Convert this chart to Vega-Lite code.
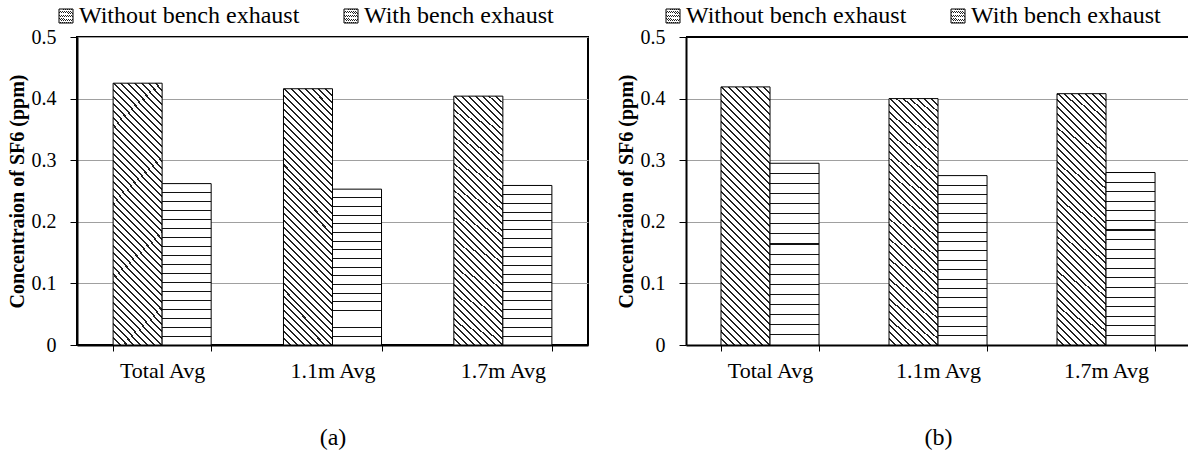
{
  "$schema": "https://vega.github.io/schema/vega-lite/v6.json",
  "padding": {"left": 6, "top": 3, "right": 0, "bottom": 0},
  "data": {"values": [
    {"panel": "a", "cat": "Total Avg", "series": "Without bench exhaust", "value": 0.425},
    {"panel": "a", "cat": "Total Avg", "series": "With bench exhaust", "value": 0.262},
    {"panel": "a", "cat": "1.1m Avg", "series": "Without bench exhaust", "value": 0.416},
    {"panel": "a", "cat": "1.1m Avg", "series": "With bench exhaust", "value": 0.253},
    {"panel": "a", "cat": "1.7m Avg", "series": "Without bench exhaust", "value": 0.404},
    {"panel": "a", "cat": "1.7m Avg", "series": "With bench exhaust", "value": 0.259},
    {"panel": "b", "cat": "Total Avg", "series": "Without bench exhaust", "value": 0.419},
    {"panel": "b", "cat": "Total Avg", "series": "With bench exhaust", "value": 0.295},
    {"panel": "b", "cat": "1.1m Avg", "series": "Without bench exhaust", "value": 0.400},
    {"panel": "b", "cat": "1.1m Avg", "series": "With bench exhaust", "value": 0.275},
    {"panel": "b", "cat": "1.7m Avg", "series": "Without bench exhaust", "value": 0.408},
    {"panel": "b", "cat": "1.7m Avg", "series": "With bench exhaust", "value": 0.280}
  ]},
  "spacing": 27,
  "resolve": {"scale": {"stroke": "independent"}, "legend": {"stroke": "independent"}},
  "hconcat": [
    {
      "width": 511,
      "height": 308,
      "view": {"stroke": "black", "strokeWidth": 2},
      "transform": [{"filter": "datum.panel === 'a'"}],
      "encoding": {
        "x": {"field": "cat", "type": "nominal", "sort": ["Total Avg", "1.1m Avg", "1.7m Avg"],
              "scale": {"paddingInner": 0.4245, "paddingOuter": 0.212},
              "axis": {"title": "(a)"}},
        "xOffset": {"field": "series", "type": "nominal", "sort": ["Without bench exhaust", "With bench exhaust"],
                    "scale": {"domain": ["Without bench exhaust", "With bench exhaust"], "paddingInner": 0, "paddingOuter": 0}},
        "y": {"field": "value", "type": "quantitative", "scale": {"domain": [0, 0.5], "nice": false},
              "axis": {"title": "Concentraion of SF6 (ppm)", "values": [0, 0.1, 0.2, 0.3, 0.4, 0.5], "format": ".1~f"}},
        "stroke": {"field": "series", "type": "nominal",
                   "scale": {"domain": ["Without bench exhaust", "With bench exhaust"], "range": ["black", "black"]},
                   "legend": {"legendX": -23, "encode": {"symbols": {"fill": {
                     "condition": {"test": "datum.index === 0", "value": {"gradient": "linear", "x1": 0, "y1": 1, "x2": 1, "y2": 0, "stops": [
                       {"offset": 0, "color": "#fff"},
                       {"offset": 0.17, "color": "#fff"}, {"offset": 0.17, "color": "#222"}, {"offset": 0.24, "color": "#222"}, {"offset": 0.24, "color": "#fff"},
                       {"offset": 0.37, "color": "#fff"}, {"offset": 0.37, "color": "#222"}, {"offset": 0.44, "color": "#222"}, {"offset": 0.44, "color": "#fff"},
                       {"offset": 0.57, "color": "#fff"}, {"offset": 0.57, "color": "#222"}, {"offset": 0.64, "color": "#222"}, {"offset": 0.64, "color": "#fff"},
                       {"offset": 0.77, "color": "#fff"}, {"offset": 0.77, "color": "#222"}, {"offset": 0.84, "color": "#222"}, {"offset": 0.84, "color": "#fff"},
                       {"offset": 1, "color": "#fff"}]}},
                     "value": {"gradient": "linear", "x1": 0, "y1": 0, "x2": 0, "y2": 1, "stops": [
                       {"offset": 0, "color": "#fff"},
                       {"offset": 0.33, "color": "#fff"}, {"offset": 0.33, "color": "#111"}, {"offset": 0.4, "color": "#111"}, {"offset": 0.4, "color": "#fff"},
                       {"offset": 0.62, "color": "#fff"}, {"offset": 0.62, "color": "#111"}, {"offset": 0.69, "color": "#111"}, {"offset": 0.69, "color": "#fff"},
                       {"offset": 1, "color": "#fff"}]}
                   }}}}}
      },
      "layer": [
        {"transform": [{"filter": "datum.series === 'Without bench exhaust'"}],
         "mark": {"type": "bar", "strokeWidth": 1, "fill": {"gradient": "linear", "x1": 0, "y1": 1, "x2": 0.2209, "y2": -0.1498, "stops": [
          {"offset": 0, "color": "#fff"},
          {"offset": 0.0194, "color": "#fff"}, {"offset": 0.0194, "color": "#222"}, {"offset": 0.026, "color": "#222"}, {"offset": 0.026, "color": "#fff"},
          {"offset": 0.0422, "color": "#fff"}, {"offset": 0.0422, "color": "#222"}, {"offset": 0.0488, "color": "#222"}, {"offset": 0.0488, "color": "#fff"},
          {"offset": 0.0649, "color": "#fff"}, {"offset": 0.0649, "color": "#222"}, {"offset": 0.0715, "color": "#222"}, {"offset": 0.0715, "color": "#fff"},
          {"offset": 0.0876, "color": "#fff"}, {"offset": 0.0876, "color": "#222"}, {"offset": 0.0942, "color": "#222"}, {"offset": 0.0942, "color": "#fff"},
          {"offset": 0.1103, "color": "#fff"}, {"offset": 0.1103, "color": "#222"}, {"offset": 0.1169, "color": "#222"}, {"offset": 0.1169, "color": "#fff"},
          {"offset": 0.1331, "color": "#fff"}, {"offset": 0.1331, "color": "#222"}, {"offset": 0.1397, "color": "#222"}, {"offset": 0.1397, "color": "#fff"},
          {"offset": 0.1558, "color": "#fff"}, {"offset": 0.1558, "color": "#222"}, {"offset": 0.1624, "color": "#222"}, {"offset": 0.1624, "color": "#fff"},
          {"offset": 0.1785, "color": "#fff"}, {"offset": 0.1785, "color": "#222"}, {"offset": 0.1851, "color": "#222"}, {"offset": 0.1851, "color": "#fff"},
          {"offset": 0.2013, "color": "#fff"}, {"offset": 0.2013, "color": "#222"}, {"offset": 0.2079, "color": "#222"}, {"offset": 0.2079, "color": "#fff"},
          {"offset": 0.224, "color": "#fff"}, {"offset": 0.224, "color": "#222"}, {"offset": 0.2306, "color": "#222"}, {"offset": 0.2306, "color": "#fff"},
          {"offset": 0.2467, "color": "#fff"}, {"offset": 0.2467, "color": "#222"}, {"offset": 0.2533, "color": "#222"}, {"offset": 0.2533, "color": "#fff"},
          {"offset": 0.2694, "color": "#fff"}, {"offset": 0.2694, "color": "#222"}, {"offset": 0.276, "color": "#222"}, {"offset": 0.276, "color": "#fff"},
          {"offset": 0.2922, "color": "#fff"}, {"offset": 0.2922, "color": "#222"}, {"offset": 0.2988, "color": "#222"}, {"offset": 0.2988, "color": "#fff"},
          {"offset": 0.3149, "color": "#fff"}, {"offset": 0.3149, "color": "#222"}, {"offset": 0.3215, "color": "#222"}, {"offset": 0.3215, "color": "#fff"},
          {"offset": 0.3376, "color": "#fff"}, {"offset": 0.3376, "color": "#222"}, {"offset": 0.3442, "color": "#222"}, {"offset": 0.3442, "color": "#fff"},
          {"offset": 0.3603, "color": "#fff"}, {"offset": 0.3603, "color": "#222"}, {"offset": 0.3669, "color": "#222"}, {"offset": 0.3669, "color": "#fff"},
          {"offset": 0.3831, "color": "#fff"}, {"offset": 0.3831, "color": "#222"}, {"offset": 0.3897, "color": "#222"}, {"offset": 0.3897, "color": "#fff"},
          {"offset": 0.4058, "color": "#fff"}, {"offset": 0.4058, "color": "#222"}, {"offset": 0.4124, "color": "#222"}, {"offset": 0.4124, "color": "#fff"},
          {"offset": 0.4285, "color": "#fff"}, {"offset": 0.4285, "color": "#222"}, {"offset": 0.4351, "color": "#222"}, {"offset": 0.4351, "color": "#fff"},
          {"offset": 0.4513, "color": "#fff"}, {"offset": 0.4513, "color": "#222"}, {"offset": 0.4579, "color": "#222"}, {"offset": 0.4579, "color": "#fff"},
          {"offset": 0.474, "color": "#fff"}, {"offset": 0.474, "color": "#222"}, {"offset": 0.4806, "color": "#222"}, {"offset": 0.4806, "color": "#fff"},
          {"offset": 0.4967, "color": "#fff"}, {"offset": 0.4967, "color": "#222"}, {"offset": 0.5033, "color": "#222"}, {"offset": 0.5033, "color": "#fff"},
          {"offset": 0.5194, "color": "#fff"}, {"offset": 0.5194, "color": "#222"}, {"offset": 0.526, "color": "#222"}, {"offset": 0.526, "color": "#fff"},
          {"offset": 0.5422, "color": "#fff"}, {"offset": 0.5422, "color": "#222"}, {"offset": 0.5488, "color": "#222"}, {"offset": 0.5488, "color": "#fff"},
          {"offset": 0.5649, "color": "#fff"}, {"offset": 0.5649, "color": "#222"}, {"offset": 0.5715, "color": "#222"}, {"offset": 0.5715, "color": "#fff"},
          {"offset": 0.5876, "color": "#fff"}, {"offset": 0.5876, "color": "#222"}, {"offset": 0.5942, "color": "#222"}, {"offset": 0.5942, "color": "#fff"},
          {"offset": 0.6103, "color": "#fff"}, {"offset": 0.6103, "color": "#222"}, {"offset": 0.6169, "color": "#222"}, {"offset": 0.6169, "color": "#fff"},
          {"offset": 0.6331, "color": "#fff"}, {"offset": 0.6331, "color": "#222"}, {"offset": 0.6397, "color": "#222"}, {"offset": 0.6397, "color": "#fff"},
          {"offset": 0.6558, "color": "#fff"}, {"offset": 0.6558, "color": "#222"}, {"offset": 0.6624, "color": "#222"}, {"offset": 0.6624, "color": "#fff"},
          {"offset": 0.6785, "color": "#fff"}, {"offset": 0.6785, "color": "#222"}, {"offset": 0.6851, "color": "#222"}, {"offset": 0.6851, "color": "#fff"},
          {"offset": 0.7013, "color": "#fff"}, {"offset": 0.7013, "color": "#222"}, {"offset": 0.7079, "color": "#222"}, {"offset": 0.7079, "color": "#fff"},
          {"offset": 0.724, "color": "#fff"}, {"offset": 0.724, "color": "#222"}, {"offset": 0.7306, "color": "#222"}, {"offset": 0.7306, "color": "#fff"},
          {"offset": 0.7467, "color": "#fff"}, {"offset": 0.7467, "color": "#222"}, {"offset": 0.7533, "color": "#222"}, {"offset": 0.7533, "color": "#fff"},
          {"offset": 0.7694, "color": "#fff"}, {"offset": 0.7694, "color": "#222"}, {"offset": 0.776, "color": "#222"}, {"offset": 0.776, "color": "#fff"},
          {"offset": 0.7922, "color": "#fff"}, {"offset": 0.7922, "color": "#222"}, {"offset": 0.7988, "color": "#222"}, {"offset": 0.7988, "color": "#fff"},
          {"offset": 0.8149, "color": "#fff"}, {"offset": 0.8149, "color": "#222"}, {"offset": 0.8215, "color": "#222"}, {"offset": 0.8215, "color": "#fff"},
          {"offset": 0.8376, "color": "#fff"}, {"offset": 0.8376, "color": "#222"}, {"offset": 0.8442, "color": "#222"}, {"offset": 0.8442, "color": "#fff"},
          {"offset": 0.8603, "color": "#fff"}, {"offset": 0.8603, "color": "#222"}, {"offset": 0.8669, "color": "#222"}, {"offset": 0.8669, "color": "#fff"},
          {"offset": 0.8831, "color": "#fff"}, {"offset": 0.8831, "color": "#222"}, {"offset": 0.8897, "color": "#222"}, {"offset": 0.8897, "color": "#fff"},
          {"offset": 0.9058, "color": "#fff"}, {"offset": 0.9058, "color": "#222"}, {"offset": 0.9124, "color": "#222"}, {"offset": 0.9124, "color": "#fff"},
          {"offset": 0.9285, "color": "#fff"}, {"offset": 0.9285, "color": "#222"}, {"offset": 0.9351, "color": "#222"}, {"offset": 0.9351, "color": "#fff"},
          {"offset": 0.9513, "color": "#fff"}, {"offset": 0.9513, "color": "#222"}, {"offset": 0.9579, "color": "#222"}, {"offset": 0.9579, "color": "#fff"},
          {"offset": 0.974, "color": "#fff"}, {"offset": 0.974, "color": "#222"}, {"offset": 0.9806, "color": "#222"}, {"offset": 0.9806, "color": "#fff"},
          {"offset": 1, "color": "#fff"}]}}},
        {"transform": [{"filter": "datum.series === 'With bench exhaust'"}],
         "mark": {"type": "bar", "strokeWidth": 1, "fill": {"gradient": "linear", "x1": 0, "y1": 0, "x2": 0, "y2": 1, "stops": [
          {"offset": 0, "color": "#fff"},
          {"offset": 0.0526, "color": "#fff"}, {"offset": 0.0526, "color": "#111"}, {"offset": 0.0586, "color": "#111"}, {"offset": 0.0586, "color": "#fff"},
          {"offset": 0.1081, "color": "#fff"}, {"offset": 0.1081, "color": "#111"}, {"offset": 0.1141, "color": "#111"}, {"offset": 0.1141, "color": "#fff"},
          {"offset": 0.1637, "color": "#fff"}, {"offset": 0.1637, "color": "#111"}, {"offset": 0.1697, "color": "#111"}, {"offset": 0.1697, "color": "#fff"},
          {"offset": 0.2192, "color": "#fff"}, {"offset": 0.2192, "color": "#111"}, {"offset": 0.2252, "color": "#111"}, {"offset": 0.2252, "color": "#fff"},
          {"offset": 0.2748, "color": "#fff"}, {"offset": 0.2748, "color": "#111"}, {"offset": 0.2808, "color": "#111"}, {"offset": 0.2808, "color": "#fff"},
          {"offset": 0.3303, "color": "#fff"}, {"offset": 0.3303, "color": "#111"}, {"offset": 0.3363, "color": "#111"}, {"offset": 0.3363, "color": "#fff"},
          {"offset": 0.3859, "color": "#fff"}, {"offset": 0.3859, "color": "#111"}, {"offset": 0.3919, "color": "#111"}, {"offset": 0.3919, "color": "#fff"},
          {"offset": 0.4414, "color": "#fff"}, {"offset": 0.4414, "color": "#111"}, {"offset": 0.4474, "color": "#111"}, {"offset": 0.4474, "color": "#fff"},
          {"offset": 0.497, "color": "#fff"}, {"offset": 0.497, "color": "#111"}, {"offset": 0.503, "color": "#111"}, {"offset": 0.503, "color": "#fff"},
          {"offset": 0.5526, "color": "#fff"}, {"offset": 0.5526, "color": "#111"}, {"offset": 0.5586, "color": "#111"}, {"offset": 0.5586, "color": "#fff"},
          {"offset": 0.6081, "color": "#fff"}, {"offset": 0.6081, "color": "#111"}, {"offset": 0.6141, "color": "#111"}, {"offset": 0.6141, "color": "#fff"},
          {"offset": 0.6637, "color": "#fff"}, {"offset": 0.6637, "color": "#111"}, {"offset": 0.6697, "color": "#111"}, {"offset": 0.6697, "color": "#fff"},
          {"offset": 0.7192, "color": "#fff"}, {"offset": 0.7192, "color": "#111"}, {"offset": 0.7252, "color": "#111"}, {"offset": 0.7252, "color": "#fff"},
          {"offset": 0.7748, "color": "#fff"}, {"offset": 0.7748, "color": "#111"}, {"offset": 0.7808, "color": "#111"}, {"offset": 0.7808, "color": "#fff"},
          {"offset": 0.8303, "color": "#fff"}, {"offset": 0.8303, "color": "#111"}, {"offset": 0.8363, "color": "#111"}, {"offset": 0.8363, "color": "#fff"},
          {"offset": 0.8859, "color": "#fff"}, {"offset": 0.8859, "color": "#111"}, {"offset": 0.8919, "color": "#111"}, {"offset": 0.8919, "color": "#fff"},
          {"offset": 0.9414, "color": "#fff"}, {"offset": 0.9414, "color": "#111"}, {"offset": 0.9474, "color": "#111"}, {"offset": 0.9474, "color": "#fff"},
          {"offset": 1, "color": "#fff"}]}}}
      ]
    },
    {
      "width": 504,
      "height": 308,
      "view": {"stroke": null},
      "transform": [{"filter": "datum.panel === 'b'"}],
      "layer": [
        {
          "encoding": {
            "x": {"field": "cat", "type": "nominal", "sort": ["Total Avg", "1.1m Avg", "1.7m Avg"],
                  "scale": {"paddingInner": 0.4167, "paddingOuter": 0.2083},
                  "axis": {"title": "(b)"}},
            "xOffset": {"field": "series", "type": "nominal", "sort": ["Without bench exhaust", "With bench exhaust"],
                        "scale": {"domain": ["Without bench exhaust", "With bench exhaust"], "paddingInner": 0, "paddingOuter": 0}},
            "y": {"field": "value", "type": "quantitative", "scale": {"domain": [0, 0.5], "nice": false},
                  "axis": {"title": "Concentraion of SF6 (ppm)", "values": [0, 0.1, 0.2, 0.3, 0.4, 0.5], "format": ".1~f"}},
            "stroke": {"field": "series", "type": "nominal",
                       "scale": {"domain": ["Without bench exhaust", "With bench exhaust"], "range": ["black", "black"]},
                       "legend": {"legendX": -25, "encode": {"symbols": {"fill": {
                         "condition": {"test": "datum.index === 0", "value": {"gradient": "linear", "x1": 0, "y1": 1, "x2": 1, "y2": 0, "stops": [
                           {"offset": 0, "color": "#fff"},
                           {"offset": 0.17, "color": "#fff"}, {"offset": 0.17, "color": "#222"}, {"offset": 0.24, "color": "#222"}, {"offset": 0.24, "color": "#fff"},
                           {"offset": 0.37, "color": "#fff"}, {"offset": 0.37, "color": "#222"}, {"offset": 0.44, "color": "#222"}, {"offset": 0.44, "color": "#fff"},
                           {"offset": 0.57, "color": "#fff"}, {"offset": 0.57, "color": "#222"}, {"offset": 0.64, "color": "#222"}, {"offset": 0.64, "color": "#fff"},
                           {"offset": 0.77, "color": "#fff"}, {"offset": 0.77, "color": "#222"}, {"offset": 0.84, "color": "#222"}, {"offset": 0.84, "color": "#fff"},
                           {"offset": 1, "color": "#fff"}]}},
                         "value": {"gradient": "linear", "x1": 0, "y1": 0, "x2": 0, "y2": 1, "stops": [
                           {"offset": 0, "color": "#fff"},
                           {"offset": 0.33, "color": "#fff"}, {"offset": 0.33, "color": "#111"}, {"offset": 0.4, "color": "#111"}, {"offset": 0.4, "color": "#fff"},
                           {"offset": 0.62, "color": "#fff"}, {"offset": 0.62, "color": "#111"}, {"offset": 0.69, "color": "#111"}, {"offset": 0.69, "color": "#fff"},
                           {"offset": 1, "color": "#fff"}]}
                       }}}}}
          },
          "layer": [
            {"transform": [{"filter": "datum.series === 'Without bench exhaust'"}],
             "mark": {"type": "bar", "strokeWidth": 1, "fill": {"gradient": "linear", "x1": 0, "y1": 1, "x2": 0.2209, "y2": -0.1498, "stops": [
              {"offset": 0, "color": "#fff"},
              {"offset": 0.0194, "color": "#fff"}, {"offset": 0.0194, "color": "#222"}, {"offset": 0.026, "color": "#222"}, {"offset": 0.026, "color": "#fff"},
              {"offset": 0.0422, "color": "#fff"}, {"offset": 0.0422, "color": "#222"}, {"offset": 0.0488, "color": "#222"}, {"offset": 0.0488, "color": "#fff"},
              {"offset": 0.0649, "color": "#fff"}, {"offset": 0.0649, "color": "#222"}, {"offset": 0.0715, "color": "#222"}, {"offset": 0.0715, "color": "#fff"},
              {"offset": 0.0876, "color": "#fff"}, {"offset": 0.0876, "color": "#222"}, {"offset": 0.0942, "color": "#222"}, {"offset": 0.0942, "color": "#fff"},
              {"offset": 0.1103, "color": "#fff"}, {"offset": 0.1103, "color": "#222"}, {"offset": 0.1169, "color": "#222"}, {"offset": 0.1169, "color": "#fff"},
              {"offset": 0.1331, "color": "#fff"}, {"offset": 0.1331, "color": "#222"}, {"offset": 0.1397, "color": "#222"}, {"offset": 0.1397, "color": "#fff"},
              {"offset": 0.1558, "color": "#fff"}, {"offset": 0.1558, "color": "#222"}, {"offset": 0.1624, "color": "#222"}, {"offset": 0.1624, "color": "#fff"},
              {"offset": 0.1785, "color": "#fff"}, {"offset": 0.1785, "color": "#222"}, {"offset": 0.1851, "color": "#222"}, {"offset": 0.1851, "color": "#fff"},
              {"offset": 0.2013, "color": "#fff"}, {"offset": 0.2013, "color": "#222"}, {"offset": 0.2079, "color": "#222"}, {"offset": 0.2079, "color": "#fff"},
              {"offset": 0.224, "color": "#fff"}, {"offset": 0.224, "color": "#222"}, {"offset": 0.2306, "color": "#222"}, {"offset": 0.2306, "color": "#fff"},
              {"offset": 0.2467, "color": "#fff"}, {"offset": 0.2467, "color": "#222"}, {"offset": 0.2533, "color": "#222"}, {"offset": 0.2533, "color": "#fff"},
              {"offset": 0.2694, "color": "#fff"}, {"offset": 0.2694, "color": "#222"}, {"offset": 0.276, "color": "#222"}, {"offset": 0.276, "color": "#fff"},
              {"offset": 0.2922, "color": "#fff"}, {"offset": 0.2922, "color": "#222"}, {"offset": 0.2988, "color": "#222"}, {"offset": 0.2988, "color": "#fff"},
              {"offset": 0.3149, "color": "#fff"}, {"offset": 0.3149, "color": "#222"}, {"offset": 0.3215, "color": "#222"}, {"offset": 0.3215, "color": "#fff"},
              {"offset": 0.3376, "color": "#fff"}, {"offset": 0.3376, "color": "#222"}, {"offset": 0.3442, "color": "#222"}, {"offset": 0.3442, "color": "#fff"},
              {"offset": 0.3603, "color": "#fff"}, {"offset": 0.3603, "color": "#222"}, {"offset": 0.3669, "color": "#222"}, {"offset": 0.3669, "color": "#fff"},
              {"offset": 0.3831, "color": "#fff"}, {"offset": 0.3831, "color": "#222"}, {"offset": 0.3897, "color": "#222"}, {"offset": 0.3897, "color": "#fff"},
              {"offset": 0.4058, "color": "#fff"}, {"offset": 0.4058, "color": "#222"}, {"offset": 0.4124, "color": "#222"}, {"offset": 0.4124, "color": "#fff"},
              {"offset": 0.4285, "color": "#fff"}, {"offset": 0.4285, "color": "#222"}, {"offset": 0.4351, "color": "#222"}, {"offset": 0.4351, "color": "#fff"},
              {"offset": 0.4513, "color": "#fff"}, {"offset": 0.4513, "color": "#222"}, {"offset": 0.4579, "color": "#222"}, {"offset": 0.4579, "color": "#fff"},
              {"offset": 0.474, "color": "#fff"}, {"offset": 0.474, "color": "#222"}, {"offset": 0.4806, "color": "#222"}, {"offset": 0.4806, "color": "#fff"},
              {"offset": 0.4967, "color": "#fff"}, {"offset": 0.4967, "color": "#222"}, {"offset": 0.5033, "color": "#222"}, {"offset": 0.5033, "color": "#fff"},
              {"offset": 0.5194, "color": "#fff"}, {"offset": 0.5194, "color": "#222"}, {"offset": 0.526, "color": "#222"}, {"offset": 0.526, "color": "#fff"},
              {"offset": 0.5422, "color": "#fff"}, {"offset": 0.5422, "color": "#222"}, {"offset": 0.5488, "color": "#222"}, {"offset": 0.5488, "color": "#fff"},
              {"offset": 0.5649, "color": "#fff"}, {"offset": 0.5649, "color": "#222"}, {"offset": 0.5715, "color": "#222"}, {"offset": 0.5715, "color": "#fff"},
              {"offset": 0.5876, "color": "#fff"}, {"offset": 0.5876, "color": "#222"}, {"offset": 0.5942, "color": "#222"}, {"offset": 0.5942, "color": "#fff"},
              {"offset": 0.6103, "color": "#fff"}, {"offset": 0.6103, "color": "#222"}, {"offset": 0.6169, "color": "#222"}, {"offset": 0.6169, "color": "#fff"},
              {"offset": 0.6331, "color": "#fff"}, {"offset": 0.6331, "color": "#222"}, {"offset": 0.6397, "color": "#222"}, {"offset": 0.6397, "color": "#fff"},
              {"offset": 0.6558, "color": "#fff"}, {"offset": 0.6558, "color": "#222"}, {"offset": 0.6624, "color": "#222"}, {"offset": 0.6624, "color": "#fff"},
              {"offset": 0.6785, "color": "#fff"}, {"offset": 0.6785, "color": "#222"}, {"offset": 0.6851, "color": "#222"}, {"offset": 0.6851, "color": "#fff"},
              {"offset": 0.7013, "color": "#fff"}, {"offset": 0.7013, "color": "#222"}, {"offset": 0.7079, "color": "#222"}, {"offset": 0.7079, "color": "#fff"},
              {"offset": 0.724, "color": "#fff"}, {"offset": 0.724, "color": "#222"}, {"offset": 0.7306, "color": "#222"}, {"offset": 0.7306, "color": "#fff"},
              {"offset": 0.7467, "color": "#fff"}, {"offset": 0.7467, "color": "#222"}, {"offset": 0.7533, "color": "#222"}, {"offset": 0.7533, "color": "#fff"},
              {"offset": 0.7694, "color": "#fff"}, {"offset": 0.7694, "color": "#222"}, {"offset": 0.776, "color": "#222"}, {"offset": 0.776, "color": "#fff"},
              {"offset": 0.7922, "color": "#fff"}, {"offset": 0.7922, "color": "#222"}, {"offset": 0.7988, "color": "#222"}, {"offset": 0.7988, "color": "#fff"},
              {"offset": 0.8149, "color": "#fff"}, {"offset": 0.8149, "color": "#222"}, {"offset": 0.8215, "color": "#222"}, {"offset": 0.8215, "color": "#fff"},
              {"offset": 0.8376, "color": "#fff"}, {"offset": 0.8376, "color": "#222"}, {"offset": 0.8442, "color": "#222"}, {"offset": 0.8442, "color": "#fff"},
              {"offset": 0.8603, "color": "#fff"}, {"offset": 0.8603, "color": "#222"}, {"offset": 0.8669, "color": "#222"}, {"offset": 0.8669, "color": "#fff"},
              {"offset": 0.8831, "color": "#fff"}, {"offset": 0.8831, "color": "#222"}, {"offset": 0.8897, "color": "#222"}, {"offset": 0.8897, "color": "#fff"},
              {"offset": 0.9058, "color": "#fff"}, {"offset": 0.9058, "color": "#222"}, {"offset": 0.9124, "color": "#222"}, {"offset": 0.9124, "color": "#fff"},
              {"offset": 0.9285, "color": "#fff"}, {"offset": 0.9285, "color": "#222"}, {"offset": 0.9351, "color": "#222"}, {"offset": 0.9351, "color": "#fff"},
              {"offset": 0.9513, "color": "#fff"}, {"offset": 0.9513, "color": "#222"}, {"offset": 0.9579, "color": "#222"}, {"offset": 0.9579, "color": "#fff"},
              {"offset": 0.974, "color": "#fff"}, {"offset": 0.974, "color": "#222"}, {"offset": 0.9806, "color": "#222"}, {"offset": 0.9806, "color": "#fff"},
              {"offset": 1, "color": "#fff"}]}}},
            {"transform": [{"filter": "datum.series === 'With bench exhaust'"}],
             "mark": {"type": "bar", "strokeWidth": 1, "fill": {"gradient": "linear", "x1": 0, "y1": 0, "x2": 0, "y2": 1, "stops": [
              {"offset": 0, "color": "#fff"},
              {"offset": 0.0526, "color": "#fff"}, {"offset": 0.0526, "color": "#111"}, {"offset": 0.0586, "color": "#111"}, {"offset": 0.0586, "color": "#fff"},
              {"offset": 0.1081, "color": "#fff"}, {"offset": 0.1081, "color": "#111"}, {"offset": 0.1141, "color": "#111"}, {"offset": 0.1141, "color": "#fff"},
              {"offset": 0.1637, "color": "#fff"}, {"offset": 0.1637, "color": "#111"}, {"offset": 0.1697, "color": "#111"}, {"offset": 0.1697, "color": "#fff"},
              {"offset": 0.2192, "color": "#fff"}, {"offset": 0.2192, "color": "#111"}, {"offset": 0.2252, "color": "#111"}, {"offset": 0.2252, "color": "#fff"},
              {"offset": 0.2748, "color": "#fff"}, {"offset": 0.2748, "color": "#111"}, {"offset": 0.2808, "color": "#111"}, {"offset": 0.2808, "color": "#fff"},
              {"offset": 0.3303, "color": "#fff"}, {"offset": 0.3303, "color": "#111"}, {"offset": 0.3363, "color": "#111"}, {"offset": 0.3363, "color": "#fff"},
              {"offset": 0.3859, "color": "#fff"}, {"offset": 0.3859, "color": "#111"}, {"offset": 0.3919, "color": "#111"}, {"offset": 0.3919, "color": "#fff"},
              {"offset": 0.4414, "color": "#fff"}, {"offset": 0.4414, "color": "#111"}, {"offset": 0.4474, "color": "#111"}, {"offset": 0.4474, "color": "#fff"},
              {"offset": 0.497, "color": "#fff"}, {"offset": 0.497, "color": "#111"}, {"offset": 0.503, "color": "#111"}, {"offset": 0.503, "color": "#fff"},
              {"offset": 0.5526, "color": "#fff"}, {"offset": 0.5526, "color": "#111"}, {"offset": 0.5586, "color": "#111"}, {"offset": 0.5586, "color": "#fff"},
              {"offset": 0.6081, "color": "#fff"}, {"offset": 0.6081, "color": "#111"}, {"offset": 0.6141, "color": "#111"}, {"offset": 0.6141, "color": "#fff"},
              {"offset": 0.6637, "color": "#fff"}, {"offset": 0.6637, "color": "#111"}, {"offset": 0.6697, "color": "#111"}, {"offset": 0.6697, "color": "#fff"},
              {"offset": 0.7192, "color": "#fff"}, {"offset": 0.7192, "color": "#111"}, {"offset": 0.7252, "color": "#111"}, {"offset": 0.7252, "color": "#fff"},
              {"offset": 0.7748, "color": "#fff"}, {"offset": 0.7748, "color": "#111"}, {"offset": 0.7808, "color": "#111"}, {"offset": 0.7808, "color": "#fff"},
              {"offset": 0.8303, "color": "#fff"}, {"offset": 0.8303, "color": "#111"}, {"offset": 0.8363, "color": "#111"}, {"offset": 0.8363, "color": "#fff"},
              {"offset": 0.8859, "color": "#fff"}, {"offset": 0.8859, "color": "#111"}, {"offset": 0.8919, "color": "#111"}, {"offset": 0.8919, "color": "#fff"},
              {"offset": 0.9414, "color": "#fff"}, {"offset": 0.9414, "color": "#111"}, {"offset": 0.9474, "color": "#111"}, {"offset": 0.9474, "color": "#fff"},
              {"offset": 1, "color": "#fff"}]}}}
          ]
        },
        {
          "mark": {"type": "rule", "color": "black", "strokeWidth": 2},
          "encoding": {"y": {"datum": 0.5, "type": "quantitative"}}
        }
      ]
    }
  ],
  "config": {
    "font": "Liberation Serif",
    "view": {"stroke": null},
    "axisX": {
      "labelAngle": 0, "labelFont": "Liberation Serif", "labelFontSize": 22, "labelColor": "black", "labelPadding": 9,
      "tickBand": "extent", "tickSize": 6, "tickColor": "black", "tickWidth": 1,
      "domainColor": "black", "domainWidth": 2, "grid": false,
      "titleFont": "Liberation Serif", "titleFontSize": 24, "titleFontWeight": "normal", "titleColor": "black", "titlePadding": 44
    },
    "axisY": {
      "labelFont": "Liberation Serif", "labelFontSize": 20, "labelColor": "black", "labelPadding": 14,
      "tickSize": 7, "tickColor": "black", "tickWidth": 1,
      "domainColor": "black", "domainWidth": 2,
      "grid": true, "gridColor": "#a0a0a0", "gridWidth": 1,
      "titleFont": "Liberation Serif", "titleFontSize": 20, "titleFontWeight": "bold", "titleColor": "black", "titlePadding": 4
    },
    "legend": {
      "orient": "none", "legendY": -33, "direction": "horizontal",
      "title": null, "labelFont": "Liberation Serif", "labelFontSize": 24, "labelColor": "black", "labelLimit": 0,
      "labelOffset": 1, "columnPadding": 39,
      "symbolType": "square", "symbolSize": 196, "symbolStrokeWidth": 1, "symbolStrokeColor": "black"
    }
  }
}
